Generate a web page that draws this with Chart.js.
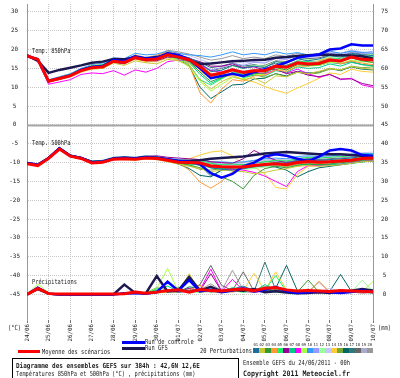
<!DOCTYPE html>
<html>
<head>
<meta charset="utf-8">
<script src="https://cdn.jsdelivr.net/npm/chart.js@4"></script>
<style>
  html, body { margin: 0; padding: 0; background: #fff; }
</style>
</head>
<body>
<canvas id="gefs" width="400" height="378"></canvas>
<script>
// GEFS ensemble 24/06/2011 00h - 42,6N 12,6E

const HOURS = [0,12,24,36,48,60,72,84,96,108,120,132,144,156,168,180,192,204,216,228,240,252,264,276,288,300,312,324,336,348,360,372,384];
const DAY_HOURS = [0,24,48,72,96,120,144,168,192,216,240,264,288,312,336,360,384];
const DAY_LABELS = ['24/06','25/06','26/06','27/06','28/06','29/06','30/06','01/07','02/07','03/07','04/07','05/07','06/07','07/07','08/07','09/07','10/07'];
const LEFT_TICKS = [30,25,20,15,10,5,0,-5,-10,-15,-20,-25,-30,-35,-40,-45];
const RIGHT_TICKS = [75,70,65,60,55,50,45,40,35,30,25,20,15,10,5,0];

const MEMBER_NAMES = ['01','02','03','04','05','06','07','08','09','10','11','12','13','14','15','16','17','18','19','20'];
const MEMBER_COLORS = ['#1a6e9e','#c8c832','#339933','#ff9933','#22ee66','#990099','#00cc88','#ff00ff','#aaff44','#3399ff',
                       '#9999ff','#99ff99','#c4c4ff','#ffcc33','#77aa33','#006666','#337777','#666666','#aaaacc','#999999'];

// temperature 850 hPa (°C)
const MEAN_850 = [18.3,17.4,11.6,12.3,13.0,14.4,15.2,15.4,16.9,16.6,17.9,17.3,17.5,18.6,18.0,17.3,15.5,13.2,13.8,14.6,13.9,14.4,14.4,15.6,15.3,16.5,16.2,16.3,17.2,17.0,18.0,17.4,17.2];
const CTRL_850 = [18.3,17.4,11.6,12.4,13.1,14.6,15.4,15.6,17.2,16.9,18.2,17.6,17.8,19.0,18.6,17.4,15.0,12.4,13.0,13.6,13.0,14.0,14.8,15.6,16.6,17.8,18.3,18.7,20.0,20.3,21.4,21.1,21.1];
const GFS_850  = [18.5,17.0,13.8,14.6,15.2,15.8,16.5,16.8,17.5,17.4,18.0,17.6,18.0,18.6,18.0,17.2,16.2,16.3,16.6,16.9,17.0,17.2,17.3,17.8,18.0,18.3,18.5,18.7,18.6,18.5,18.4,18.2,17.6];
const T850 = [
  [18.2,17.5,11.8,12.5,13.2,14.8,15.6,15.8,17.2,17.0,18.3,17.8,18.0,19.0,18.4,17.8,16.5,14.2,14.5,15.8,15.0,15.6,15.2,16.8,16.4,17.6,17.0,17.5,18.4,18.0,19.0,18.6,18.4],
  [18.3,17.2,11.4,12.0,12.8,14.0,14.8,15.0,16.4,15.8,17.0,16.5,16.2,17.4,17.0,15.8,12.0,9.5,11.5,12.8,12.0,12.5,11.0,13.0,12.8,14.0,13.6,14.2,15.0,14.6,15.5,15.0,14.8],
  [18.4,17.6,11.9,12.6,13.4,14.6,15.5,15.2,17.2,16.9,18.2,17.6,17.8,19.2,18.6,17.0,14.0,11.5,12.6,13.8,12.8,13.6,13.8,15.2,14.6,16.0,15.8,16.0,17.0,16.8,17.8,17.0,16.6],
  [18.2,17.3,11.5,12.2,13.0,14.2,15.0,15.6,16.8,16.8,18.6,17.8,18.4,19.4,18.8,16.0,8.5,5.8,9.5,12.0,11.6,13.0,13.2,14.6,14.2,15.6,15.6,17.0,17.8,16.2,17.0,16.4,16.0],
  [18.3,17.4,11.7,12.4,13.1,14.5,15.4,15.5,17.0,16.8,18.0,17.2,17.4,18.4,17.6,16.0,12.0,10.6,12.2,14.0,13.4,14.4,14.2,15.8,15.6,17.0,16.8,16.6,17.8,17.6,18.8,18.0,18.2],
  [18.3,17.5,11.6,12.2,13.0,14.6,15.2,15.0,16.6,16.2,17.6,17.0,17.0,18.0,17.8,17.6,16.8,15.6,15.6,16.2,15.2,15.4,14.6,14.8,13.6,14.2,13.2,12.8,13.4,12.2,12.2,11.0,10.4],
  [18.2,17.6,11.8,12.5,13.3,14.8,15.6,16.0,17.4,17.2,18.4,17.8,17.6,18.8,18.0,16.6,13.4,11.0,12.4,13.8,12.6,13.2,13.0,14.4,14.0,15.4,15.0,15.2,16.2,15.6,16.6,16.0,15.6],
  [18.1,17.0,10.8,11.4,12.0,13.4,13.8,13.6,14.4,13.2,14.6,14.0,15.0,16.8,17.2,17.0,16.0,14.4,14.0,14.8,13.8,14.0,13.6,14.6,13.8,14.8,13.6,12.6,13.4,12.0,12.4,10.6,10.0],
  [18.4,17.5,11.8,12.6,13.4,14.8,15.8,16.0,17.4,17.0,18.2,17.4,17.2,18.0,17.2,15.4,11.5,9.0,10.8,12.6,12.2,13.4,13.4,14.8,14.6,16.0,15.6,15.8,16.6,16.4,17.2,16.8,16.6],
  [18.3,17.7,12.0,12.8,13.6,15.0,16.0,16.4,17.8,17.6,19.0,18.6,18.8,19.6,19.0,18.6,18.4,18.0,18.6,19.4,18.6,19.0,18.6,19.4,18.8,19.2,18.6,18.8,19.6,19.0,19.6,19.2,19.0],
  [18.2,17.3,11.5,12.3,13.2,14.4,15.3,15.6,17.0,16.7,18.1,17.6,17.8,19.0,18.6,17.8,16.2,14.6,15.2,16.4,15.8,16.6,16.4,17.6,17.4,18.4,18.0,18.2,19.0,18.6,19.4,19.0,19.6],
  [18.3,17.4,11.7,12.4,13.2,14.6,15.4,15.6,17.0,16.6,17.8,17.0,17.2,18.2,17.6,17.0,15.6,14.0,14.6,15.6,15.0,15.8,15.6,16.8,16.6,17.6,17.4,17.2,18.2,18.0,18.8,18.4,18.8],
  [18.4,17.6,11.9,12.6,13.5,14.8,15.7,16.0,17.5,17.2,18.5,18.0,18.2,19.4,19.0,18.4,17.4,16.4,16.6,17.2,16.4,16.8,16.6,17.8,17.4,18.6,18.2,18.4,19.2,19.0,19.8,19.4,19.2],
  [18.2,17.3,11.4,12.1,12.8,14.2,15.0,15.2,16.6,16.2,17.4,16.8,16.8,17.8,17.2,16.4,14.2,12.6,12.4,13.2,12.0,11.4,10.2,9.2,8.4,9.8,11.0,12.4,13.8,13.4,14.8,14.2,14.0],
  [18.3,17.5,11.6,12.4,13.0,14.4,15.2,15.4,16.8,16.4,17.8,17.2,17.4,18.4,17.8,16.8,14.8,12.8,13.4,14.4,13.2,13.4,12.6,13.6,12.8,14.0,13.4,13.8,14.8,14.6,15.6,15.2,15.4],
  [18.4,17.4,11.8,12.5,13.2,14.6,15.4,15.6,17.0,16.8,18.0,17.4,17.6,18.4,17.4,15.6,10.0,7.0,8.8,10.6,10.8,12.2,12.4,13.6,13.0,14.2,13.8,14.0,15.0,14.4,15.4,14.8,14.6],
  [18.2,17.3,11.5,12.3,13.1,14.4,15.2,15.4,16.8,16.6,17.8,17.2,17.6,18.6,18.2,17.6,16.6,15.2,15.6,16.4,15.6,16.0,15.4,16.4,15.8,16.8,16.0,15.8,16.6,16.2,16.8,16.0,15.8],
  [18.3,17.5,11.7,12.4,13.2,14.6,15.5,15.8,17.2,17.0,18.3,17.6,17.8,18.8,18.2,17.4,15.8,14.4,15.0,15.8,15.2,15.8,15.8,17.0,16.8,17.8,17.6,17.8,18.6,18.4,19.2,18.8,18.6],
  [18.3,17.4,11.6,12.3,13.0,14.4,15.3,15.5,17.0,16.7,18.0,17.4,17.6,18.6,18.0,17.0,15.0,13.4,14.0,15.0,14.2,14.8,14.8,16.0,15.8,17.0,16.6,16.8,17.6,17.4,18.4,17.8,17.8],
  [18.2,17.6,11.9,12.6,13.4,14.8,15.6,15.9,17.4,17.2,18.4,18.0,18.4,19.8,19.4,18.8,18.0,17.2,17.6,18.4,17.6,18.0,17.6,18.6,18.2,19.0,18.4,18.6,19.4,19.0,19.8,19.2,19.0]
];

// temperature 500 hPa (°C)
const MEAN_500 = [-10.3,-10.8,-8.9,-6.4,-8.3,-8.9,-10.1,-9.9,-9.1,-9.0,-9.1,-8.8,-8.9,-9.4,-9.9,-10.0,-10.1,-10.9,-11.1,-11.2,-11.2,-10.8,-10.5,-10.3,-10.6,-10.0,-9.7,-9.9,-9.8,-9.6,-9.4,-8.9,-8.8];
const CTRL_500 = [-10.1,-10.6,-8.8,-6.2,-8.2,-8.8,-9.9,-9.8,-9.0,-8.8,-8.9,-8.6,-8.8,-9.2,-9.6,-9.8,-10.4,-12.8,-14.0,-13.0,-11.0,-10.0,-8.4,-7.8,-8.2,-9.0,-9.6,-8.4,-6.8,-6.4,-6.8,-8.0,-8.2];
const GFS_500  = [-10.1,-10.6,-8.8,-6.2,-8.2,-8.8,-9.9,-9.8,-9.0,-8.8,-8.9,-8.6,-8.8,-9.2,-9.6,-9.6,-9.4,-9.0,-8.8,-8.6,-8.4,-8.0,-7.6,-7.4,-7.2,-7.4,-7.6,-7.8,-7.8,-7.8,-8.0,-8.2,-8.6];
const T500 = [
  [-10.1,-10.6,-8.7,-6.0,-8.0,-8.6,-9.6,-9.4,-8.6,-8.4,-8.6,-8.2,-8.4,-9.0,-9.6,-9.8,-10.2,-11.4,-11.8,-12.0,-11.6,-11.0,-10.4,-10.0,-10.2,-9.4,-9.0,-9.4,-9.2,-9.0,-8.8,-8.4,-8.4],
  [-10.1,-10.7,-8.9,-6.4,-8.4,-9.0,-10.2,-10.0,-9.2,-9.2,-9.4,-9.0,-9.2,-9.8,-10.4,-11.0,-11.6,-12.4,-12.0,-12.2,-12.4,-13.0,-12.6,-12.0,-11.6,-11.0,-10.8,-11.0,-10.8,-10.6,-10.2,-9.8,-9.6],
  [-10.2,-10.6,-8.8,-6.2,-8.2,-8.8,-10.0,-9.8,-9.0,-9.0,-9.2,-8.8,-9.0,-9.6,-10.2,-10.6,-11.4,-12.6,-13.8,-15.0,-17.0,-13.4,-11.6,-11.0,-11.4,-10.8,-10.4,-10.6,-10.4,-10.0,-9.8,-9.4,-9.2],
  [-10.1,-10.6,-8.7,-6.1,-8.1,-8.7,-9.8,-9.6,-8.8,-8.6,-8.8,-8.4,-8.6,-9.2,-10.0,-12.0,-15.2,-16.8,-15.0,-12.4,-11.2,-10.8,-10.6,-10.6,-11.0,-10.4,-10.0,-10.2,-10.0,-9.8,-9.4,-9.0,-8.8],
  [-10.1,-10.5,-8.6,-6.0,-8.0,-8.6,-9.6,-9.6,-8.8,-8.8,-9.0,-8.6,-8.8,-9.4,-9.8,-9.6,-9.4,-10.2,-10.6,-10.4,-10.6,-10.0,-9.8,-9.4,-9.6,-9.0,-8.6,-8.8,-8.6,-8.4,-8.2,-7.8,-7.8],
  [-10.1,-10.6,-8.8,-6.3,-8.2,-8.8,-9.8,-9.8,-9.0,-8.8,-8.8,-8.4,-8.2,-8.6,-8.8,-9.0,-9.2,-9.8,-10.0,-10.2,-9.0,-6.8,-8.2,-9.4,-10.0,-9.6,-9.2,-9.6,-9.6,-9.4,-9.2,-8.8,-8.6],
  [-10.2,-10.7,-8.9,-6.3,-8.3,-8.9,-10.0,-10.0,-9.2,-9.0,-9.2,-8.8,-9.0,-9.6,-10.2,-10.4,-10.6,-11.4,-11.6,-11.4,-11.6,-11.2,-10.8,-10.6,-11.0,-10.6,-10.4,-10.6,-10.6,-10.4,-10.2,-9.8,-9.6],
  [-10.1,-10.6,-8.8,-6.2,-8.2,-8.8,-9.8,-9.8,-9.0,-9.0,-9.2,-8.8,-9.0,-9.6,-10.0,-10.2,-10.4,-11.2,-11.6,-11.8,-12.0,-12.6,-13.6,-15.0,-16.4,-12.4,-10.8,-10.8,-10.6,-10.4,-10.0,-9.6,-9.4],
  [-10.1,-10.6,-8.7,-6.0,-8.1,-8.7,-9.8,-9.7,-8.9,-8.8,-8.9,-8.6,-8.6,-9.2,-9.6,-10.0,-10.6,-11.2,-11.0,-11.2,-11.0,-10.6,-10.2,-10.0,-10.2,-9.8,-9.6,-9.6,-9.4,-9.2,-9.0,-8.6,-8.4],
  [-10.1,-10.6,-8.8,-6.1,-8.1,-8.7,-9.7,-9.6,-8.8,-8.6,-8.7,-8.4,-8.4,-8.8,-9.2,-9.4,-9.2,-9.8,-9.8,-10.0,-9.8,-9.4,-9.0,-8.8,-9.0,-8.4,-8.2,-8.4,-8.2,-8.0,-7.8,-7.6,-7.6],
  [-10.2,-10.6,-8.9,-6.3,-8.3,-8.8,-9.9,-9.9,-9.1,-9.0,-9.1,-8.8,-8.9,-9.4,-9.8,-10.0,-10.2,-10.8,-11.0,-11.2,-11.0,-10.6,-10.2,-9.8,-10.0,-9.4,-9.2,-9.4,-9.2,-9.0,-8.6,-8.2,-8.0],
  [-10.1,-10.5,-8.7,-6.1,-8.1,-8.7,-9.8,-9.7,-8.9,-8.8,-9.0,-8.6,-8.8,-9.4,-9.8,-10.0,-10.0,-10.6,-11.0,-11.4,-11.8,-11.6,-11.2,-10.8,-11.2,-10.8,-10.4,-10.6,-10.4,-10.2,-10.0,-9.6,-9.4],
  [-10.1,-10.6,-8.8,-6.2,-8.2,-8.7,-9.8,-9.7,-8.9,-8.7,-8.8,-8.5,-8.6,-9.0,-9.4,-9.6,-9.6,-10.2,-10.4,-10.4,-10.2,-9.8,-9.4,-9.2,-9.4,-8.8,-8.4,-8.6,-8.4,-8.2,-7.8,-7.4,-7.2],
  [-10.1,-10.6,-8.8,-6.2,-8.2,-8.8,-9.9,-9.8,-9.0,-8.9,-9.0,-8.7,-8.8,-9.4,-9.6,-9.0,-8.0,-7.2,-6.9,-8.2,-10.4,-11.2,-13.0,-16.6,-17.0,-13.2,-11.0,-10.8,-10.4,-10.0,-9.6,-9.2,-9.0],
  [-10.1,-10.6,-8.8,-6.2,-8.2,-8.8,-9.9,-9.8,-9.0,-8.9,-9.0,-8.7,-8.9,-9.6,-10.2,-10.8,-11.8,-12.0,-11.6,-11.8,-11.4,-11.0,-10.6,-10.4,-10.8,-10.4,-10.0,-10.2,-10.0,-9.8,-9.6,-9.2,-9.0],
  [-10.1,-10.6,-8.7,-6.1,-8.1,-8.7,-9.8,-9.7,-8.9,-8.8,-9.0,-8.6,-8.8,-9.6,-10.4,-11.6,-13.4,-13.8,-12.0,-11.6,-11.4,-11.0,-10.8,-11.2,-12.0,-13.8,-12.4,-11.4,-11.0,-10.6,-10.2,-9.8,-9.6],
  [-10.2,-10.6,-8.8,-6.3,-8.3,-8.9,-9.9,-9.9,-9.1,-9.0,-9.1,-8.8,-9.0,-9.4,-9.8,-10.0,-10.8,-13.6,-12.0,-11.2,-11.0,-10.8,-10.4,-10.2,-10.4,-10.0,-9.6,-9.8,-9.6,-9.4,-9.2,-8.8,-8.6],
  [-10.1,-10.6,-8.8,-6.2,-8.2,-8.8,-9.8,-9.8,-9.0,-8.8,-8.9,-8.6,-8.6,-9.0,-9.4,-9.6,-9.8,-10.4,-10.6,-10.6,-10.6,-10.2,-9.8,-9.6,-9.8,-9.4,-9.0,-9.2,-9.0,-8.8,-8.6,-8.2,-8.0],
  [-10.1,-10.6,-8.8,-6.2,-8.2,-8.8,-9.9,-9.8,-9.0,-8.9,-9.0,-8.7,-8.8,-9.4,-9.9,-10.0,-10.2,-11.0,-11.4,-11.6,-11.6,-11.2,-11.0,-10.8,-11.0,-10.6,-10.2,-10.4,-10.2,-10.0,-9.8,-9.4,-9.2],
  [-10.1,-10.6,-8.7,-6.1,-8.1,-8.7,-9.7,-9.6,-8.8,-8.7,-8.8,-8.4,-8.6,-9.0,-9.4,-9.4,-9.6,-10.0,-10.2,-10.2,-10.0,-9.6,-9.4,-9.2,-9.4,-9.0,-8.6,-8.8,-8.6,-8.4,-8.2,-7.8,-7.6]
];

// precipitation (mm), right axis
const MEAN_RR = [0,1.6,0.2,0.1,0.1,0.1,0.1,0.1,0.1,0.2,0.6,0.3,0.6,1.0,1.2,0.6,1.3,1.0,0.9,1.2,1.4,1.0,1.6,1.8,1.2,0.9,1.0,0.9,0.8,1.0,0.9,0.8,0.7];
const CTRL_RR = [0,1.8,0.2,0,0,0,0,0,0,0.3,0.4,0.2,0.6,3.4,1.0,3.8,0.8,1.2,0.6,1.0,1.6,0.8,1.2,2.0,0.8,0.4,0.6,0.8,0.6,0.4,0.6,1.0,0.6];
const GFS_RR  = [0,1.4,0.2,0,0,0,0,0,0,2.6,0.4,0.3,4.9,0.8,1.0,4.6,1.0,2.0,0.8,1.2,1.0,1.4,0.6,0.8,0.5,0.3,0.4,0.6,0.4,0.8,1.0,1.4,1.0];
const RR = [
  [0,1.6,0.2,0,0,0,0,0,0,0.2,0.4,0.2,0.8,1.2,0.6,1.0,0.8,1.0,0.6,1.4,2.2,1.0,0.8,1.2,0.6,0.4,0.6,0.8,0.4,0.6,0.8,0.6,0.4],
  [0,1.8,0.3,0,0,0,0,0,0,0.1,0.6,0.2,0.4,0.6,0.8,5.5,0.6,0.8,0.4,0.8,1.0,0.6,1.0,2.0,0.8,0.5,0.4,0.6,0.8,0.4,0.6,0.4,0.5],
  [0,1.4,0.2,0,0,0,0,0,0,0.2,0.3,0.4,1.0,0.6,1.8,0.8,1.4,0.6,0.8,1.0,0.8,1.2,0.6,1.0,0.8,0.6,3.8,0.6,0.4,0.8,0.6,1.0,0.6],
  [0,1.5,0.2,0,0,0,0,0,0,0.1,0.2,0.2,0.6,0.8,0.6,1.2,2.4,0.8,1.0,0.6,1.2,0.8,1.0,1.4,0.6,0.8,0.4,3.5,0.6,0.4,0.6,0.8,0.4],
  [0,2.0,0.2,0,0,0,0,0,0,0.3,0.8,0.4,4.9,0.8,0.6,1.0,0.6,1.4,0.8,1.0,0.6,1.0,1.2,5.0,0.8,0.6,0.8,0.6,0.4,0.6,0.8,0.6,0.4],
  [0,1.6,0.2,0,0,0,0,0,0,0.2,0.4,0.3,0.6,1.0,0.8,1.6,1.0,5.5,0.8,1.2,0.8,0.6,1.4,1.0,0.6,0.4,0.6,0.8,0.6,1.2,0.8,1.0,0.6],
  [0,1.7,0.3,0,0,0,0,0,0,0.2,0.5,0.2,1.4,2.2,0.8,0.6,0.8,1.0,0.6,1.8,1.0,0.8,2.6,1.2,1.0,0.6,0.8,0.6,0.4,0.6,0.6,0.8,0.6],
  [0,1.6,0.2,0,0,0,0,0,0,0.1,0.3,0.2,0.4,0.8,0.6,0.8,1.2,6.7,0.8,4.0,1.0,0.6,0.8,1.0,0.6,0.8,0.6,0.4,0.6,0.8,0.6,0.4,0.6],
  [0,2.8,0.4,0,0,0,0,0,0,0.2,0.6,0.4,1.6,6.9,0.8,1.2,0.6,1.0,0.8,1.2,0.8,1.0,0.6,1.2,0.8,0.6,1.0,0.6,0.4,0.6,0.8,0.6,3.5],
  [0,1.5,0.2,0,0,0,0,0,0,0.1,0.2,0.3,0.8,3.0,0.6,4.2,0.8,1.2,0.6,0.8,1.0,0.8,1.2,0.8,0.6,0.4,0.6,0.8,0.6,0.4,0.6,0.8,0.4],
  [0,1.4,0.2,0,0,0,0,0,0,0.2,0.3,0.2,0.6,0.8,1.0,1.4,1.2,0.8,1.0,1.4,0.8,0.6,1.0,0.8,0.6,1.0,0.8,0.6,0.8,0.4,0.6,0.4,0.4],
  [0,1.8,0.3,0,0,0,0,0,0,0.2,0.4,0.3,1.0,0.8,1.2,0.8,0.6,1.2,0.8,1.0,0.6,0.8,1.0,0.6,0.8,0.6,1.2,0.8,0.6,0.8,0.6,3.8,0.8],
  [0,1.5,0.2,0,0,0,0,0,0,0.1,0.3,0.2,0.5,0.7,0.8,1.0,0.8,0.6,1.0,0.8,1.2,0.8,0.6,1.0,0.8,0.6,0.8,0.6,1.6,0.8,0.6,0.8,0.6],
  [0,1.6,0.2,0,0,0,0,0,0,0.2,0.4,0.2,0.6,1.0,0.8,4.8,0.8,1.0,0.6,0.8,1.0,5.6,1.0,6.0,1.2,0.6,0.8,1.2,0.6,0.4,0.6,0.8,0.6],
  [0,1.7,0.2,0,0,0,0,0,0,0.3,0.6,0.4,1.8,1.2,0.8,1.0,1.2,0.8,1.2,0.8,1.4,1.0,0.8,1.6,1.0,0.8,1.4,0.6,0.8,0.6,0.8,0.6,0.8],
  [0,1.6,0.3,0,0,0,0,0,0,0.2,0.4,0.2,0.8,1.0,0.6,2.0,1.6,1.2,0.8,1.0,0.8,1.0,1.4,1.6,7.7,1.0,0.8,0.6,0.8,5.3,0.8,0.6,0.6],
  [0,1.5,0.2,0,0,0,0,0,0,0.1,0.3,0.2,0.6,0.8,1.2,0.8,1.0,2.0,0.8,1.2,1.0,0.8,8.6,1.2,0.8,0.6,0.8,1.0,0.6,0.8,0.6,0.8,0.6],
  [0,1.6,0.2,0,0,0,0,0,0,0.2,0.4,0.3,0.8,1.0,0.8,1.2,2.6,7.7,2.4,1.0,6.0,0.8,1.0,0.8,0.6,0.8,0.6,0.8,0.6,0.6,0.8,0.6,0.6],
  [0,1.5,0.2,0,0,0,0,0,0,0.1,0.3,0.2,0.6,0.8,0.6,1.0,0.8,1.0,1.2,0.8,1.0,0.8,1.2,0.8,1.0,0.6,0.8,3.2,0.6,0.8,0.6,0.4,0.6],
  [0,1.6,0.3,0,0,0,0,0,0,0.2,0.4,0.2,0.6,0.8,1.0,0.8,1.2,2.8,1.0,6.4,1.2,0.8,2.2,1.0,0.8,0.6,0.8,0.6,0.8,0.6,0.8,0.6,0.6]
];

const MONO = '"DejaVu Sans Mono", monospace';
const RED = '#ff0000', BLUE = '#0000ff', NAVY = '#1c1850';

// Chart.js draws dataset 0 last, so the mean goes first to end up on top
const datasets = [];
function addLine(values, axis, color, width) {
  datasets.push({
    data: values.map((v, j) => ({ x: HOURS[j], y: v })),
    yAxisID: axis,
    borderColor: color,
    borderWidth: width,
    pointRadius: 0,
    tension: 0,
    fill: false
  });
}
addLine(MEAN_850, 'y', RED, 3);
addLine(MEAN_500, 'y', RED, 3);
addLine(MEAN_RR, 'yR', RED, 3);
addLine(CTRL_850, 'y', BLUE, 2.5);
addLine(CTRL_500, 'y', BLUE, 2.5);
addLine(CTRL_RR, 'yR', BLUE, 2.5);
addLine(GFS_850, 'y', NAVY, 2.5);
addLine(GFS_500, 'y', NAVY, 2.5);
addLine(GFS_RR, 'yR', NAVY, 2.5);
for (let i = 0; i < MEMBER_NAMES.length; i++) {
  addLine(T850[i], 'y', MEMBER_COLORS[i], 1);
  addLine(T500[i], 'y', MEMBER_COLORS[i], 1);
  addLine(RR[i], 'yR', MEMBER_COLORS[i], 1);
}

function txt(ctx, s, x, y, size, sx, bold) {
  ctx.save();
  ctx.font = (bold ? 'bold ' : '') + size + 'px ' + MONO;
  ctx.fillStyle = '#1a1a1a';
  ctx.textBaseline = 'middle';
  ctx.textAlign = 'left';
  ctx.translate(x, y);
  ctx.scale(sx, 1);
  ctx.fillText(s, 0, 0);
  ctx.restore();
}

// no automatic label padding: the plot box is fixed at 27..373 x 4..320
function fixBox(size) {
  return s => {
    if (s.isHorizontal()) s.height = size; else s.width = size;
    s.paddingTop = 0; s.paddingBottom = 0; s.paddingLeft = 0; s.paddingRight = 0;
  };
}

const Y_MIN = -51.8, Y_MAX = 32.1, RR_OFFSET = 45;

new Chart(document.getElementById('gefs'), {
  type: 'line',
  data: { datasets },
  options: {
    responsive: false,
    animation: false,
    devicePixelRatio: 1,
    layout: { padding: { top: 4, left: 0, right: 0, bottom: 0 } },
    plugins: { legend: { display: false }, tooltip: { enabled: false } },
    scales: {
      x: {
        type: 'linear',
        min: 0,
        max: 384,
        afterBuildTicks: s => { s.ticks = DAY_HOURS.map(v => ({ value: v })); },
        afterFit: fixBox(58),
        ticks: {
          autoSkip: false,
          minRotation: 90,
          maxRotation: 90,
          padding: 1,
          color: '#222',
          font: { family: MONO, size: 5.8 },
          callback: (v, i) => DAY_LABELS[i]
        },
        grid: { color: '#c8c8c8', tickColor: '#777', tickLength: 3 },
        border: { display: false, dash: [1, 1] }
      },
      y: {
        position: 'left',
        min: Y_MIN,
        max: Y_MAX,
        afterBuildTicks: s => { s.ticks = LEFT_TICKS.map(v => ({ value: v })); },
        afterFit: fixBox(27),
        ticks: { crossAlign: 'center', padding: 7, color: '#222', font: { family: MONO, size: 6 } },
        grid: { color: '#c8c8c8', drawTicks: false },
        border: { display: true, color: '#999', dash: [1, 1] }
      },
      yR: {
        position: 'right',
        min: Y_MIN + RR_OFFSET,
        max: Y_MAX + RR_OFFSET,
        afterBuildTicks: s => { s.ticks = RIGHT_TICKS.map(v => ({ value: v })); },
        afterFit: fixBox(27),
        ticks: { crossAlign: 'center', padding: 8, color: '#222', font: { family: MONO, size: 6 } },
        grid: { display: false, drawTicks: false },
        border: { display: true, color: '#999' }
      }
    }
  },
  plugins: [
    {
      id: 'zeroLine',
      beforeDatasetsDraw(chart) {
        const { ctx, chartArea, scales } = chart;
        const y = Math.round(scales.y.getPixelForValue(0)) + 0.5;
        ctx.save();
        ctx.strokeStyle = '#a8a8a8';
        ctx.lineWidth = 2;
        ctx.beginPath();
        ctx.moveTo(chartArea.left, y);
        ctx.lineTo(chartArea.right, y);
        ctx.stroke();
        ctx.restore();
      }
    },
    {
      id: 'captions',
      afterDraw(chart) {
        const ctx = chart.ctx;
        // panel titles
        txt(ctx, 'Temp. 850hPa', 32, 51, 7, 0.76);
        txt(ctx, 'Temp. 500hPa', 32, 143, 7, 0.76);
        txt(ctx, 'Précipitations', 32, 282, 7, 0.76);
        // units
        txt(ctx, '(°C)', 8, 328, 7, 0.77);
        txt(ctx, '(mm)', 378, 328, 7, 0.77);
        // legend
        ctx.fillStyle = RED;  ctx.fillRect(18, 350, 22, 3);
        txt(ctx, 'Moyenne des scénarios', 42, 352, 7, 0.77);
        ctx.fillStyle = BLUE; ctx.fillRect(122, 341, 23, 3);
        txt(ctx, 'Run de controle', 145, 342, 7, 0.77);
        ctx.fillStyle = NAVY; ctx.fillRect(122, 347, 23, 3);
        txt(ctx, 'Run GFS', 145, 348, 7, 0.77);
        txt(ctx, '20 Perturbations', 200, 351, 7, 0.77);
        MEMBER_NAMES.forEach((name, i) => {
          const x0 = 253 + i * 6;
          txt(ctx, name, x0 + 0.5, 345, 4, 0.95);
          ctx.fillStyle = MEMBER_COLORS[i];
          ctx.fillRect(x0, 348, 6, 5);
        });
        // title box
        ctx.save();
        ctx.strokeStyle = '#000';
        ctx.lineWidth = 1;
        ctx.strokeRect(12.5, 358.5, 226, 25);
        ctx.restore();
        txt(ctx, 'Diagramme des ensembles GEFS sur 384h : 42,6N 12,6E', 16, 366, 7, 0.855, true);
        txt(ctx, 'Températures 850hPa et 500hPa (°C) , précipitations (mm)', 16, 374.5, 7, 0.76);
        txt(ctx, 'Ensemble GEFS du 24/06/2011 - 00h', 243, 363, 7, 0.77);
        txt(ctx, 'Copyright 2011 Meteociel.fr', 243, 374.5, 7.5, 0.877, true);
      }
    }
  ]
});
</script>
</body>
</html>
